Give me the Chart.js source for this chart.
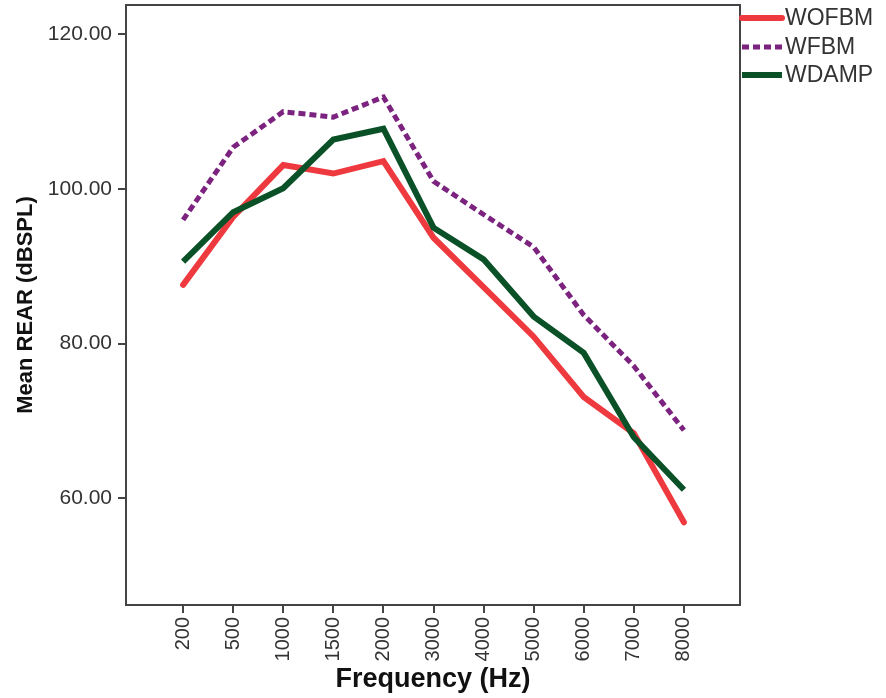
<!DOCTYPE html>
<html>
<head>
<meta charset="utf-8">
<script src="https://cdn.jsdelivr.net/npm/chart.js@4/dist/chart.umd.min.js"></script>
<style>
  html, body { margin: 0; padding: 0; background: #fff; }
  #wrap { width: 886px; height: 698px; }
</style>
</head>
<body>
<div id="wrap"><canvas id="chart" width="886" height="698"></canvas></div>
<script>
// Frequency categories (Hz)
const freqLabels = ['200', '500', '1000', '1500', '2000', '3000', '4000', '5000', '6000', '7000', '8000'];

// Mean REAR values (dBSPL)
const wofbm = [87.6, 96.4, 103.1, 102.0, 103.6, 93.7, 87.3, 80.9, 73.1, 68.4, 56.9];
const wfbm  = [96.0, 105.4, 110.0, 109.3, 111.9, 101.0, 96.7, 92.5, 83.7, 77.1, 68.8];
const wdamp = [90.6, 97.0, 100.1, 106.4, 107.8, 95.0, 90.9, 83.5, 78.8, 67.9, 61.1];

const yTicks = [60, 80, 100, 120];

const axisColor = '#444444';
const textColor = '#333333';

// turn a value list into {x, y} points on the index axis
function toPoints(values) {
    return values.map((v, i) => ({ x: i, y: v }));
}

// Draws the closed frame around the plot area
const framePlugin = {
    id: 'frame',
    afterDatasetsDraw(chart) {
        const { ctx, chartArea } = chart;
        ctx.save();
        ctx.strokeStyle = axisColor;
        ctx.lineWidth = 2;
        ctx.strokeRect(chartArea.left, chartArea.top, chartArea.right - chartArea.left, chartArea.bottom - chartArea.top);
        ctx.restore();
    }
};

// Legend sitting just right of the frame, like the original
const sideLegend = {
    id: 'sideLegend',
    afterDraw(chart) {
        const { ctx, chartArea } = chart;
        const x0 = chartArea.right;
        const rows = [18, 47, 75];
        ctx.save();
        chart.data.datasets.forEach((ds, i) => {
            const y = rows[i];
            ctx.beginPath();
            ctx.strokeStyle = ds.borderColor;
            ctx.lineWidth = ds.borderWidth;
            ctx.lineCap = ds.borderCapStyle || 'butt';
            ctx.setLineDash(ds.borderDash || []);
            ctx.moveTo(x0 + 2, y);
            ctx.lineTo(x0 + 42, y);
            ctx.stroke();
            ctx.setLineDash([]);
            ctx.fillStyle = textColor;
            ctx.font = '23px "Liberation Sans", Arial, sans-serif';
            ctx.textBaseline = 'middle';
            ctx.textAlign = 'left';
            ctx.fillText(ds.label, x0 + 45, y + 1);
        });
        ctx.restore();
    }
};

const ctx = document.getElementById('chart').getContext('2d');
new Chart(ctx, {
    type: 'line',
    data: {
        datasets: [
            {
                label: 'WOFBM',
                data: toPoints(wofbm),
                borderColor: '#ee3a3f',
                borderWidth: 6,
                borderCapStyle: 'round',
                borderJoinStyle: 'miter',
                order: 3
            },
            {
                label: 'WFBM',
                data: toPoints(wfbm),
                borderColor: '#7b237f',
                borderWidth: 5,
                borderDash: [7, 4],
                borderJoinStyle: 'miter',
                order: 2
            },
            {
                label: 'WDAMP',
                data: toPoints(wdamp),
                borderColor: '#0b5128',
                borderWidth: 6,
                borderJoinStyle: 'miter',
                order: 1
            }
        ]
    },
    options: {
        responsive: false,
        animation: false,
        layout: { padding: { top: 5, right: 146, left: 0, bottom: 0 } },
        elements: { point: { radius: 0 }, line: { tension: 0 } },
        plugins: {
            legend: { display: false },
            tooltip: { enabled: false }
        },
        scales: {
            x: {
                type: 'linear',
                min: -1.14,
                max: 11.12,
                afterFit(scale) { scale.height = 93; },
                afterBuildTicks(scale) {
                    scale.ticks = freqLabels.map((_, i) => ({ value: i }));
                },
                ticks: {
                    autoSkip: false,
                    minRotation: 90,
                    maxRotation: 90,
                    padding: 4,
                    color: textColor,
                    font: { family: '"Liberation Sans", Arial, sans-serif', size: 20 },
                    callback: (v) => freqLabels[v]
                },
                grid: { drawOnChartArea: false, tickLength: 8, color: axisColor, lineWidth: 2 },
                border: { color: axisColor, width: 2 },
                title: {
                    display: true,
                    text: 'Frequency (Hz)',
                    color: '#111111',
                    font: { family: '"Liberation Sans", Arial, sans-serif', size: 27, weight: 'bold' },
                    padding: { top: 2, bottom: 2 }
                }
            },
            y: {
                min: 46.2,
                max: 123.8,
                afterFit(scale) {
                    scale.width = 126;
                    scale.paddingTop = 0;
                    scale.paddingBottom = 0;
                },
                afterBuildTicks(scale) {
                    scale.ticks = yTicks.map(v => ({ value: v }));
                },
                ticks: {
                    padding: 6,
                    color: textColor,
                    font: { family: '"Liberation Sans", Arial, sans-serif', size: 21 },
                    callback: (v) => v.toFixed(2)
                },
                grid: { drawOnChartArea: false, tickLength: 8, color: axisColor, lineWidth: 2 },
                border: { color: axisColor, width: 2 },
                title: {
                    display: true,
                    text: 'Mean REAR (dBSPL)',
                    color: '#111111',
                    font: { family: '"Liberation Sans", Arial, sans-serif', size: 22, weight: 'bold' },
                    padding: { top: 13, bottom: 0 }
                }
            }
        }
    },
    plugins: [framePlugin, sideLegend]
});
</script>
</body>
</html>
